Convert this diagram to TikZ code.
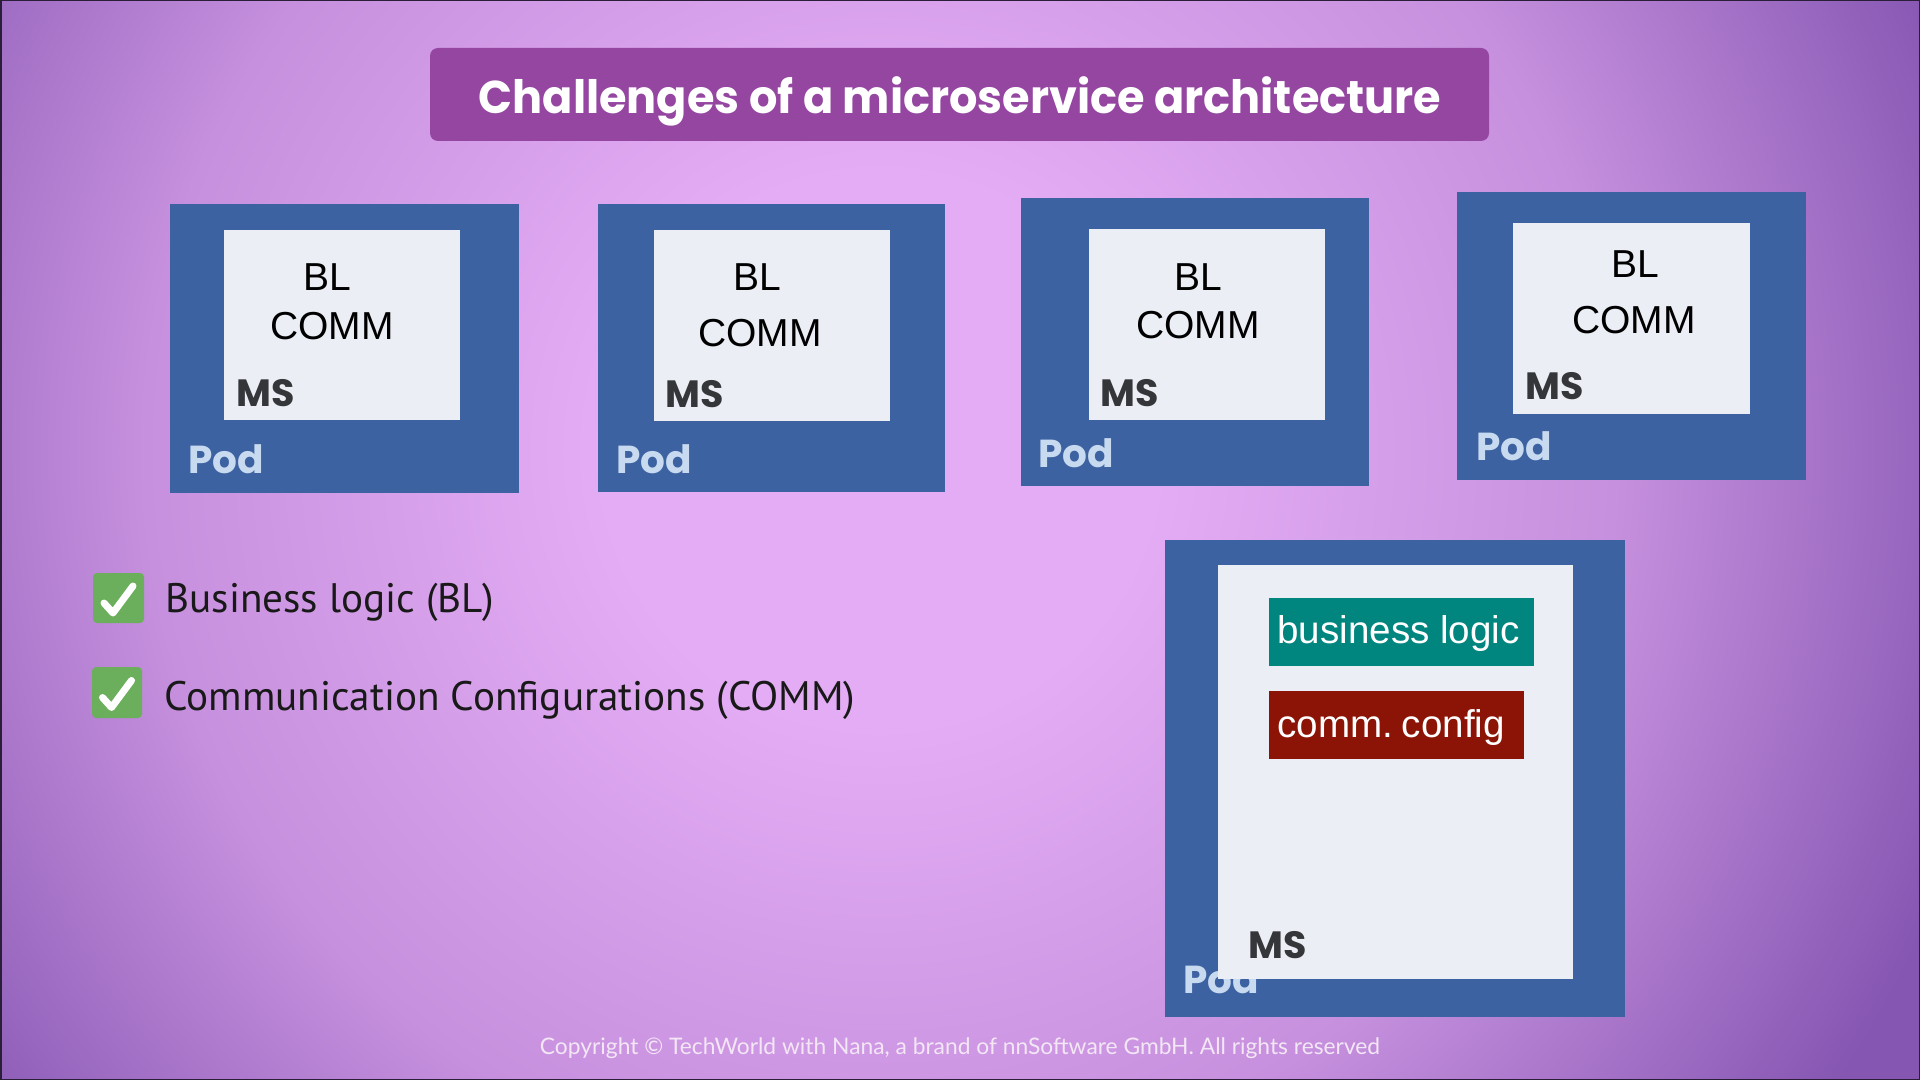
\documentclass[tikz,border=0pt]{standalone}
\usepackage{fontspec}
\setmainfont{Liberation Sans}
\newfontfamily\popfont{Poppins}
\newfontfamily\ptfont{PT Sans}
\newfontfamily\latofont{Lato}
\usetikzlibrary{fit,calc}
\definecolor{bgin}{HTML}{E4ACF4}
\definecolor{bgmid}{HTML}{C690DE}
\definecolor{bgout}{HTML}{8556B2}
\definecolor{titlebg}{HTML}{9446A1}
\definecolor{podblue}{HTML}{3D62A2}
\definecolor{msfill}{HTML}{EBEEF4}
\definecolor{podtxt}{HTML}{C8DAF0}
\definecolor{mstxt}{HTML}{35363A}
\definecolor{tealbox}{HTML}{00857F}
\definecolor{redbox}{HTML}{8B1406}
\definecolor{checkgreen}{HTML}{6BAE5B}
\definecolor{copytxt}{HTML}{F3E6F5}
\definecolor{edgedark}{HTML}{2A1E38}
\pgfdeclareradialshading{bgshade}{\pgfpoint{0bp}{0bp}}{color(0bp)=(bgin); color(6bp)=(bgin); color(16bp)=(bgmid); color(25bp)=(bgout); color(50bp)=(bgout)}
\tikzset{
  podbox/.style={fill=podblue, inner sep=0pt, outer sep=0pt},
  msbox/.style={fill=msfill, inner sep=0pt, outer sep=0pt},
  bltext/.style={font=\fontsize{19.5}{22}\selectfont, text=black, inner sep=0pt, anchor=base},
  mslabel/.style={font=\popfont\bfseries\fontsize{19}{22}\selectfont, text=mstxt, inner sep=0pt, anchor=base west},
  podlabel/.style={font=\popfont\bfseries\fontsize{19.5}{22}\selectfont, text=podtxt, inner sep=0pt, anchor=base west},
  checkbox/.style={fill=checkgreen, rounded corners=2pt, inner sep=0pt},
  checkmark/.style={draw=white, line width=3.5pt, line cap=round, line join=round},
  listtext/.style={font=\ptfont\fontsize{20.6}{24}\selectfont, text=black!90, inner sep=0pt, anchor=base west},
  tagbox/.style={inner sep=0pt, outer sep=0pt},
  tagtext/.style={font=\fontsize{19.3}{22}\selectfont, inner sep=0pt, anchor=base west},
}
\begin{document}
\begin{tikzpicture}[x=0.5pt,y=-0.5pt]
\useasboundingbox (0,0) rectangle (1920,1080);
\begin{scope}
\clip (0,0) rectangle (1920,1080);
\fill[bgout] (0,0) rectangle (1920,1080);
\shade[shading=bgshade] (880,450) circle (1150);
\end{scope}
% title
\node[fill=titlebg, rounded corners=4pt, inner sep=0pt, fit={(430,48) (1489,141)}] (titlebox) {};
\node[font=\popfont\bfseries\fontsize{23}{28}\selectfont, text=white, inner sep=0pt, xscale=0.97] (title) at (960,101) {Challenges of a microservice architecture};
% pods row
\node[podbox, fit={(170,204) (519,493)}] (pod1) {};
\node[msbox, fit={(224,230) (460,420)}] (ms1) {};
\node[bltext] (bl1) at (327,291) {BL};
\node[bltext] (comm1) at (332,340) {COMM};
\node[mslabel] (msl1) at (236,406) {MS};
\node[podlabel] (podl1) at (188,473) {Pod};

\node[podbox, fit={(598,204) (945,492)}] (pod2) {};
\node[msbox, fit={(654,230) (890,421)}] (ms2) {};
\node[bltext] (bl2) at (757,291) {BL};
\node[bltext] (comm2) at (760,347) {COMM};
\node[mslabel] (msl2) at (665,408) {MS};
\node[podlabel] (podl2) at (616,473) {Pod};

\node[podbox, fit={(1021,198) (1369,486)}] (pod3) {};
\node[msbox, fit={(1089,229) (1325,420)}] (ms3) {};
\node[bltext] (bl3) at (1198,291) {BL};
\node[bltext] (comm3) at (1198,339) {COMM};
\node[mslabel] (msl3) at (1100,406) {MS};
\node[podlabel] (podl3) at (1038,467) {Pod};

\node[podbox, fit={(1457,192) (1806,480)}] (pod4) {};
\node[msbox, fit={(1513,223) (1750,414)}] (ms4) {};
\node[bltext] (bl4) at (1635,278) {BL};
\node[bltext] (comm4) at (1634,334) {COMM};
\node[mslabel] (msl4) at (1525,400) {MS};
\node[podlabel] (podl4) at (1476,460) {Pod};
% checklist
\node[checkbox, fit={(93,573) (144,623)}] (chk1) {};
\draw[checkmark] ($(chk1.center)+(-14.5,5)$) -- ($(chk1.center)+(-5.5,15)$) -- ($(chk1.center)+(14.5,-12)$);
\node[listtext] (item1) at (165,612) {Business logic (BL)};
\node[checkbox, fit={(92,667) (142,718)}] (chk2) {};
\draw[checkmark] ($(chk2.center)+(-14.5,5)$) -- ($(chk2.center)+(-5.5,15)$) -- ($(chk2.center)+(14.5,-12)$);
\node[listtext] (item2) at (164,710) {Communication Configurations (COMM)};
% big pod
\node[podbox, fit={(1165,540) (1625,1017)}] (pod5) {};
\node[podlabel] (podl5) at (1183,993) {Pod};
\node[msbox, fit={(1218,565) (1573,979)}] (ms5) {};
\node[tagbox, fill=tealbox, fit={(1269,598) (1534,666)}] (bltag) {};
\node[tagtext, text=white] (bltagtext) at (1277,643) {business logic};
\node[tagbox, fill=redbox, fit={(1269,691) (1524,759)}] (commtag) {};
\node[tagtext, text=white] (commtagtext) at (1277,737) {comm.\kern-1pt\ config};
\node[mslabel] (msl5) at (1248,958) {MS};
% copyright
\node[font=\latofont\fontsize{11.4}{13}\selectfont, text=copytxt, inner sep=0pt] (copy) at (960,1048) {Copyright © TechWorld with Nana, a brand of nnSoftware GmbH. All rights reserved};
% thin dark frame edge
\draw[edgedark, line width=1.5pt] (0,0) rectangle (1920,1080);
\end{tikzpicture}
\end{document}
